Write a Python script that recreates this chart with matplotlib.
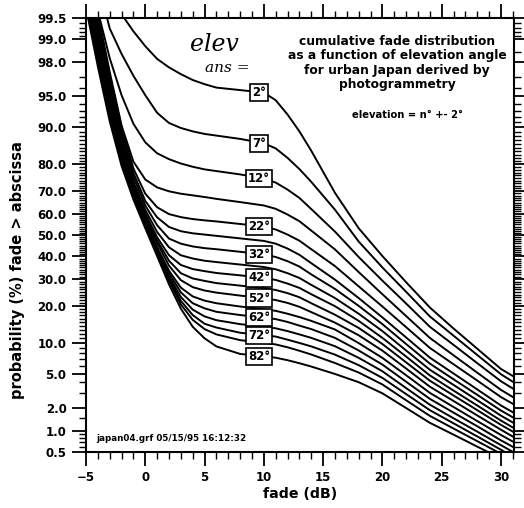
import math
import numpy as np
import matplotlib
matplotlib.use("Agg")
import matplotlib.pyplot as plt
from matplotlib.ticker import FixedLocator, FuncFormatter

plt.rcParams['font.family'] = ['DejaVu Sans']

# fade values (dB) where the curves were read
FADE_DB = [-5, -4.5, -4, -3, -2, -1, 0, 1, 2, 3, 4, 5, 6, 8, 10, 11, 12, 13, 14,
           16, 18, 20, 22, 24, 26, 28, 30, 31.2]

# probability (%) fade > abscissa, one list per elevation angle
P02 = [99.98, 99.95, 99.90, 99.78, 99.56, 99.22, 98.75, 98.17, 97.67, 97.19, 96.71, 96.33, 95.99, 95.73,
       95.45, 94.52, 92.36, 89.07, 84.13, 69.15, 53.19, 40.13, 28.77, 19.49, 13.35, 8.85, 5.59, 4.55]
P07 = [99.98, 99.95, 99.87, 99.29, 98.42, 97.06, 95.15, 92.65, 90.82, 89.8, 89.07, 88.49, 88.1, 87.3,
       86.2, 84.8, 82.0, 78.3, 73.6, 61.8, 46.9, 35.0, 25.0, 16.7, 11.6, 7.72, 4.92, 3.92]
P12 = [99.93, 99.84, 99.61, 98.21, 95.15, 90.66, 86.43, 83.4, 81.6, 80.2, 79.1, 78.2, 77.6, 76.4,
       74.9, 73.3, 70.5, 67.0, 62.1, 51.6, 39.7, 29.4, 20.8, 13.8, 9.61, 6.41, 4.13, 3.29]
P17 = [99.9, 99.78, 99.57, 97.35, 90.3, 80.8, 74.5, 71.4, 69.8, 68.8, 68.1, 67.4, 66.6, 65.2,
       63.7, 62.2, 59.6, 56.5, 52.1, 43.2, 33.0, 24.1, 16.8, 11.1, 7.67, 5.11, 3.30, 2.62]
P22 = [99.88, 99.77, 99.53, 97.1, 89.9, 78.5, 68.8, 62.9, 59.8, 58.4, 57.5, 56.9, 56.4, 55.2,
       54.0, 52.6, 50.2, 47.3, 43.3, 35.6, 27.1, 19.8, 13.7, 9.01, 6.25, 4.20, 2.72, 2.17]
P27 = [99.87, 99.74, 99.42, 96.7, 88.8, 76.9, 65.7, 58.3, 53.8, 51.8, 50.8, 50.2, 49.6, 48.4,
       47.2, 45.9, 43.6, 40.7, 36.9, 29.8, 22.7, 16.4, 11.2, 7.28, 5.01, 3.34, 2.15, 1.70]
P32 = [99.85, 99.71, 99.30, 96.1, 87.7, 75.4, 63.7, 54.6, 48.3, 45.9, 44.6, 43.8, 43.3, 42.1,
       40.9, 39.7, 37.8, 35.4, 32.0, 26.1, 20.0, 14.5, 9.78, 6.35, 4.34, 2.89, 1.86, 1.46]
P37 = [99.82, 99.69, 99.15, 95.5, 86.6, 73.6, 61.7, 51.4, 44.2, 40.5, 39.0, 38.0, 37.4, 36.3,
       35.2, 34.2, 32.5, 30.5, 27.7, 22.7, 17.5, 12.7, 8.52, 5.49, 3.76, 2.49, 1.60, 1.25]
P42 = [99.80, 99.61, 98.97, 94.9, 85.4, 72.3, 60.1, 48.9, 40.5, 36.1, 34.3, 33.4, 32.6, 31.6,
       30.5, 29.7, 28.2, 26.5, 24.1, 19.9, 15.4, 11.1, 7.45, 4.78, 3.24, 2.15, 1.38, 1.07]
P47 = [99.79, 99.57, 98.87, 94.6, 84.8, 71.6, 59.1, 47.4, 38.0, 32.5, 30.3, 29.3, 28.4, 27.4,
       26.4, 25.7, 24.5, 23.0, 20.9, 17.2, 13.5, 9.78, 6.53, 4.19, 2.84, 1.88, 1.21, 0.94]
P52 = [99.77, 99.53, 98.76, 94.2, 84.2, 71.0, 57.9, 46.2, 35.8, 29.6, 26.8, 25.5, 24.7, 23.6,
       22.7, 22.0, 21.0, 19.7, 18.0, 14.9, 11.7, 8.49, 5.65, 3.59, 2.44, 1.61, 1.04, 0.80]
P57 = [99.76, 99.48, 98.64, 93.8, 83.5, 70.3, 57.2, 44.2, 33.6, 26.6, 23.3, 21.8, 20.9, 19.8,
       18.9, 18.4, 17.5, 16.5, 15.4, 13.1, 9.97, 7.23, 4.80, 3.05, 2.06, 1.36, 0.88, 0.68]
P62 = [99.74, 99.42, 98.52, 93.45, 82.9, 69.7, 56.6, 43.5, 32.5, 24.8, 20.9, 19.2, 18.1, 17.1,
       16.4, 15.9, 15.1, 14.1, 13.2, 11.1, 8.52, 6.2, 4.08, 2.59, 1.75, 1.16, 0.74, 0.57]
P67 = [99.73, 99.36, 98.38, 93.06, 82.2, 69.0, 55.9, 42.8, 31.3, 23.1, 18.8, 16.7, 15.6, 14.5,
       13.8, 13.4, 12.7, 11.9, 11.1, 9.34, 7.24, 5.29, 3.46, 2.20, 1.48, 0.98, 0.63, 0.48]
P72 = [99.71, 99.3, 98.2, 92.6, 81.6, 68.3, 55.2, 42.1, 30.3, 21.7, 17.1, 14.6, 13.6, 12.3,
       11.7, 11.4, 10.7, 10.0, 9.3, 7.78, 6.12, 4.49, 2.95, 1.88, 1.27, 0.84, 0.54, 0.41]
P77 = [99.69, 99.22, 98.08, 92.07, 80.8, 67.7, 54.5, 41.7, 29.4, 20.5, 15.7, 13.2, 11.9, 10.6,
       10.0, 9.7, 9.13, 8.47, 7.8, 6.43, 5.13, 3.80, 2.49, 1.59, 1.08, 0.72, 0.47, 0.36]
P82 = [99.65, 99.06, 97.72, 91.15, 79.4, 66.3, 53.2, 40.1, 27.9, 19.1, 13.8, 11.0, 9.3, 7.9,
       7.5, 7.26, 6.86, 6.4, 5.92, 4.95, 4.03, 3.01, 2.00, 1.29, 0.89, 0.60, 0.40, 0.31]

ELEVATIONS = [2, 7, 12, 17, 22, 27, 32, 37, 42, 47, 52, 57, 62, 67, 72, 77, 82]
CURVES = [P02, P07, P12, P17, P22, P27, P32, P37, P42, P47, P52, P57, P62, P67, P72, P77, P82]
LABELLED = [2, 7, 12, 22, 32, 42, 52, 62, 72, 82]

Y_TICKS = [0.5, 1, 2, 5, 10, 20, 30, 40, 50, 60, 70, 80, 90, 95, 98, 99, 99.5]
Y_MINOR = ([0.6, 0.7, 0.8, 0.9, 1.5, 3, 4, 6, 7, 8, 9]
           + [v for v in range(11, 90) if v % 10 != 0]
           + [91, 92, 93, 94, 96, 97, 98.5, 99.1, 99.2, 99.3, 99.4])


# normal probability scale
_erf = np.vectorize(math.erf)
_z = np.linspace(-7, 7, 28001)
_p = 50.0 * (1 + _erf(_z / math.sqrt(2)))

def prob_to_z(p):
    return np.interp(p, _p, _z)

def z_to_prob(z):
    return np.interp(z, _z, _p)


fig = plt.figure(figsize=(5.24, 5.08), dpi=100)
ax = fig.add_axes([86 / 524, 1 - 452 / 508, 428 / 524, 434 / 508])
ax.set_yscale('function', functions=(prob_to_z, z_to_prob))

for vals in CURVES:
    ax.plot(FADE_DB, vals, color='black', lw=1.4)

# elevation labels sitting on the curves
i10 = FADE_DB.index(10)
for elev, vals in zip(ELEVATIONS, CURVES):
    if elev in LABELLED:
        ax.text(9.6, vals[i10], f'{elev}°', ha='center', va='center', fontsize=8.5,
                fontweight='bold', zorder=4,
                bbox=dict(boxstyle='square,pad=0.18', fc='white', ec='black', lw=1.2))

ax.set_xlim(-5, 31.1)
ax.set_ylim(0.5, 99.5)
ax.xaxis.set_major_locator(FixedLocator(range(-5, 31, 5)))
ax.xaxis.set_minor_locator(FixedLocator(range(-5, 32)))
ax.yaxis.set_major_locator(FixedLocator(Y_TICKS))
ax.yaxis.set_minor_locator(FixedLocator(Y_MINOR))
ax.yaxis.set_major_formatter(FuncFormatter(lambda v, pos: f'{v:.1f}'))
ax.yaxis.set_minor_formatter(FuncFormatter(lambda v, pos: ''))

ax.tick_params(which='major', direction='out', length=10, width=1.3,
               top=True, right=True, labelsize=8.5, pad=4)
ax.tick_params(which='minor', direction='out', length=5, width=1.0, top=True, right=True)
for lab in ax.get_xticklabels() + ax.get_yticklabels():
    lab.set_fontweight('bold')
for sp in ax.spines.values():
    sp.set_linewidth(1.5)

ax.set_xlabel('fade (dB)', fontsize=10.2, fontweight='bold', labelpad=2)
ax.set_ylabel('probability (%) fade > abscissa', fontsize=10.5, fontweight='bold')
ax.yaxis.set_label_coords(-0.142, 0.42)

ax.text(0.727, 0.896, 'cumulative fade distribution\nas a function of elevation angle\n'
        'for urban Japan derived by\nphotogrammetry', transform=ax.transAxes,
        ha='center', va='center', fontsize=8.8, fontweight='bold', linespacing=1.15)
ax.text(0.75, 0.776, 'elevation = n° +- 2°', transform=ax.transAxes,
        ha='center', va='center', fontsize=7.2, fontweight='bold')
ax.text(0.023, 0.03, 'japan04.grf 05/15/95 16:12:32', transform=ax.transAxes,
        ha='left', va='center', fontsize=6.3, fontweight='bold')

# handwritten note on the original
ax.text(0.30, 0.94, 'elev', transform=ax.transAxes, ha='center', va='center',
        fontsize=17, style='italic', family='DejaVu Serif')
ax.text(0.33, 0.885, 'ans =', transform=ax.transAxes, ha='center', va='center',
        fontsize=11, style='italic', family='DejaVu Serif')

fig.savefig('out.png', dpi=100)
plt.close(fig)
